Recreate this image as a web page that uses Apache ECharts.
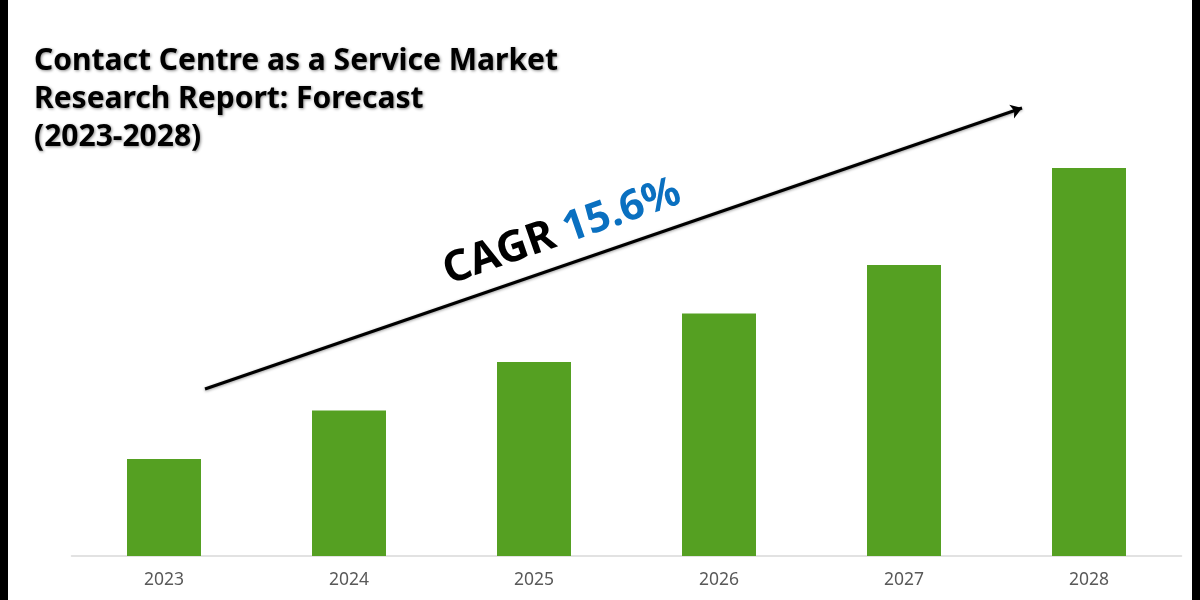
<!DOCTYPE html>
<html>
<head>
<meta charset="utf-8">
<style>
  html, body { margin: 0; padding: 0; background: #fff; }
  #chart { width: 1200px; height: 600px; }
</style>
<script src="https://cdn.jsdelivr.net/npm/echarts@6/dist/echarts.min.js"></script>
</head>
<body>
<div id="chart"></div>
<script>
const years = ['2023', '2024', '2025', '2026', '2027', '2028'];
const marketSize = [1.0, 1.5, 2.0, 2.5, 3.0, 4.0];
const titleLines = ['Contact Centre as a Service Market', 'Research Report: Forecast', '(2023-2028)'];

const chart = echarts.init(document.getElementById('chart'));
const fontName = '"Noto Sans", sans-serif';

chart.setOption({
  animation: false,
  backgroundColor: '#fff',
  title: {
    text: titleLines.join('\n'),
    left: 29,
    top: 37,
    textStyle: {
      fontFamily: fontName,
      fontSize: 30,
      fontWeight: 'bold',
      lineHeight: 38,
      color: '#000',
      textShadowColor: 'rgba(0,0,0,0.45)',
      textShadowBlur: 3,
      textShadowOffsetX: 1,
      textShadowOffsetY: 1
    }
  },
  grid: { left: 71.5, right: 18.5, top: 168, bottom: 44 },
  xAxis: {
    type: 'category',
    data: years,
    axisTick: { show: false },
    axisLine: { lineStyle: { color: '#d9d9d9', width: 1.5 } },
    axisLabel: { color: '#595959', fontFamily: fontName, fontSize: 17.5, margin: 15 }
  },
  yAxis: { type: 'value', min: 0, max: 4, show: false },
  series: [{
    type: 'bar',
    data: marketSize,
    barWidth: '40%',
    itemStyle: { color: '#55a022' },
    markLine: {
      silent: true,
      symbol: ['none', 'arrow'],
      symbolSize: 11,
      label: { show: false },
      lineStyle: {
        color: '#000', width: 3, type: 'solid',
        shadowColor: 'rgba(0,0,0,0.4)', shadowBlur: 3, shadowOffsetY: 1
      },
      data: [[{ x: 205, y: 389 }, { x: 1022, y: 108 }]]
    }
  }],
  graphic: [
    { type: 'rect', shape: { x: 0, y: 0, width: 8, height: 600 }, style: { fill: '#000' } },
    { type: 'rect', shape: { x: 1192, y: 0, width: 8, height: 600 }, style: { fill: '#000' } },
    {
      type: 'text',
      x: 562,
      y: 232,
      rotation: 0.335,
      style: {
        text: '{a|CAGR}{s| }{b|15.6%}',
        align: 'center',
        verticalAlign: 'middle',
        rich: {
          a: { fontFamily: fontName, fontSize: 43, fontWeight: 'bold', fill: '#000' },
          s: { fontFamily: fontName, fontSize: 42 },
          b: { fontFamily: fontName, fontSize: 42, fontWeight: 'bold', fill: '#0a70c0' }
        }
      }
    }
  ]
});
</script>
</body>
</html>
